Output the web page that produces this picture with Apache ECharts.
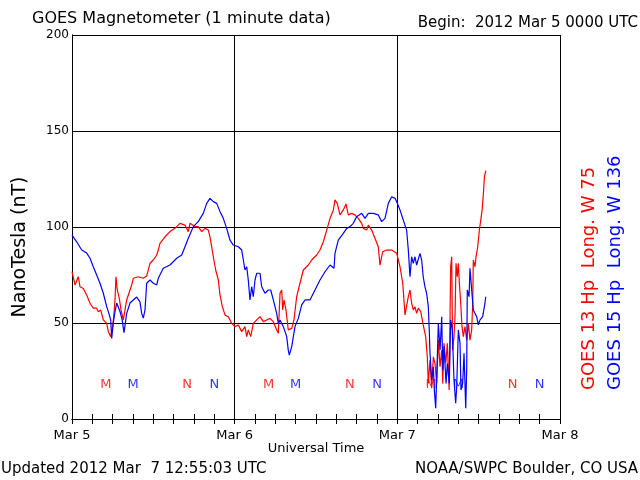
<!DOCTYPE html>
<html>
<head>
<meta charset="utf-8">
<script src="https://cdn.jsdelivr.net/npm/echarts@6/dist/echarts.min.js"></script>
<style>
html,body{margin:0;padding:0;background:#fff;}
#chart{width:640px;height:480px;}
</style>
</head>
<body>
<div id="chart"></div>
<script>
// Tick labels
var dayLabels = ['Mar 5', 'Mar 6', 'Mar 7', 'Mar 8'];
var yTicks = [0, 50, 100, 150, 200];

// GOES 13 Hp (red), hours since 2012 Mar 5 00:00 UTC, nT
var g13Hours = [0,0.44,0.93,1.18,1.67,2.17,2.66,3.14,3.64,3.88,4.23,4.62,5.12,5.36,5.71,6.00,6.20,6.34,6.49,6.68,6.98,7.23,7.57,8.07,8.56,8.81,9.04,9.78,10.52,11.02,11.51,12.00,12.50,12.73,12.98,13.72,14.46,15.20,15.93,16.67,17.16,17.41,18.15,18.63,19.14,19.62,20.11,20.36,20.61,20.85,21.20,21.59,21.84,22.18,22.57,23.06,23.56,24.05,24.54,25.04,25.52,25.78,26.01,26.37,26.75,27.25,27.74,28.23,28.73,29.21,29.70,30.20,30.44,30.69,30.94,31.09,31.28,31.57,31.91,32.42,32.75,33.15,33.64,34.13,34.87,35.36,36.10,36.59,37.08,37.58,38.07,38.56,38.80,39.14,39.54,40.03,40.43,40.77,41.27,41.75,42.24,42.74,42.98,43.48,43.72,44.22,44.70,45.19,45.44,45.84,46.43,47.17,47.41,47.91,48.39,48.80,49.13,49.38,49.62,49.87,50.11,50.35,50.60,50.85,51.09,51.45,51.82,52.18,52.42,52.57,52.82,53.07,53.31,53.56,53.81,54.05,54.30,54.55,54.70,54.89,55.15,55.38,55.64,55.87,56.02,56.16,56.36,56.51,56.66,56.85,57.00,57.15,57.35,57.54,57.74,57.98,58.24,58.48,58.72,58.97,59.12,59.21,59.46,59.61,59.86,60.10,60.31,60.51,60.70,60.85,61.06];
var g13Values = [76.7,69.8,74.1,68.9,68.0,64.6,60.3,57.7,57.7,55.9,56.8,51.6,49.8,45.5,42.9,48.1,55.0,62.0,74.1,67.2,62.8,56.8,51.6,62.0,67.2,69.8,73.3,74.1,73.3,74.5,81.1,82.8,85.4,88.0,91.5,94.9,97.6,99.3,101.9,101.0,97.6,101.9,100.2,100.2,97.6,99.3,98.4,94.9,89.7,84.5,77.6,72.4,64.6,58.5,54.2,53.3,49.8,48.1,49.0,45.5,48.1,42.9,46.4,42.9,49.8,51.6,53.3,50.7,51.6,52.4,50.7,46.4,44.6,65.5,67.2,56.8,62.0,56.8,46.4,47.2,51.6,63.7,70.7,77.6,80.2,82.8,85.4,88.0,92.3,98.4,104.5,108.9,114.1,112.3,106.3,108.9,112.0,106.3,107.1,106.3,104.5,101.9,99.3,98.4,101.0,98.4,94.1,89.7,80.2,87.1,88.0,88.0,88.9,86.3,79.3,70.7,54.2,55.0,63.7,67.2,60.3,56.8,58.5,55.0,57.7,55.9,49.0,42.9,32.4,18.5,30.7,16.0,32.4,29.0,18.5,41.1,27.2,35.9,18.5,39.4,29.0,39.4,15.1,79.3,84.5,35.9,42.9,53.3,81.1,74.1,81.1,70.7,60.3,48.1,42.9,48.1,41.1,49.8,41.1,46.4,60.3,82.8,79.3,84.5,89.7,98.4,103.6,108.9,117.6,126.2,129.3];

// GOES 15 Hp (blue)
var g15Hours = [0,0.69,1.43,2.17,2.66,3.14,3.64,4.13,4.62,5.12,5.36,5.71,5.86,6.09,6.34,6.60,6.86,7.08,7.38,7.67,8.07,8.56,9.04,9.55,10.03,10.28,10.52,10.77,11.02,11.51,12.00,12.50,12.73,13.47,14.46,15.45,16.19,16.67,17.16,17.90,18.63,19.37,19.87,20.36,20.85,21.35,21.84,22.32,22.82,23.31,23.80,24.54,25.04,25.28,25.52,25.78,26.01,26.26,26.51,26.75,27.00,27.25,27.74,27.99,28.48,28.96,29.32,29.70,30.20,30.44,30.69,31.18,31.68,31.91,32.06,32.42,32.90,33.39,33.89,34.38,35.11,35.85,36.59,37.33,38.07,38.66,38.80,39.29,40.03,40.53,41.02,41.50,42.00,42.74,43.23,43.72,44.45,45.19,45.69,46.18,46.67,47.17,47.66,47.91,48.39,48.88,49.37,49.62,49.87,50.11,50.35,50.60,50.85,51.34,51.59,51.82,52.07,52.32,52.57,52.71,52.82,53.07,53.31,53.46,53.66,53.81,54.05,54.30,54.55,54.70,54.89,55.19,55.38,55.67,55.87,56.11,56.36,56.61,56.76,57.00,57.25,57.39,57.64,57.84,58.09,58.24,58.32,58.58,58.72,58.97,59.21,59.46,59.71,59.95,60.20,60.59,60.93,61.04];
var g15Values = [95.8,92.3,88.0,86.4,83.7,79.3,75.0,70.7,65.5,58.5,55.9,51.6,42.0,50.0,55.9,60.4,60.0,56.0,52.0,45.0,55.0,60.4,62.0,63.5,61.0,55.0,52.6,56.8,70.7,72.4,70.7,69.8,73.3,78.5,80.2,83.7,85.4,89.7,94.1,100.2,102.8,107.1,112.3,114.9,113.2,112.3,108.0,104.5,99.3,93.2,90.6,89.7,88.0,82.8,77.6,79.3,72.4,62.0,68.9,63.7,72.4,75.9,75.9,68.9,65.5,67.2,67.2,62.0,55.0,49.8,51.6,48.1,42.9,35.9,33.3,37.7,48.1,52.4,59.4,62.0,62.0,67.2,72.4,76.7,80.2,78.5,86.3,93.2,96.7,99.3,100.2,101.9,105.4,107.1,104.5,107.1,107.1,106.3,102.8,104.5,112.3,115.8,114.9,113.2,108.9,103.6,98.4,88.0,74.1,84.5,81.1,84.5,80.2,86.3,82.8,74.1,68.9,65.5,58.5,46.4,34.2,20.3,27.2,15.1,5.6,22.0,49.8,35.9,53.3,25.5,37.7,18.5,29.0,18.5,51.6,46.4,20.3,8.2,16.8,46.4,39.4,15.1,18.5,34.2,5.6,27.2,67.2,63.7,78.5,67.2,56.8,55.0,53.3,49.0,51.6,53.3,60.3,63.7];

// Local midnight (M) / noon (N) markers
var markerHours   = [5, 9, 17, 21, 29, 33, 41, 45, 53, 57, 65, 69];
var markerLetters = ['M','M','N','N','M','M','N','N','M','M','N','N'];
var markerSat     = [13, 15, 13, 15, 13, 15, 13, 15, 13, 15, 13, 15];
var markerLevel = 17.7;

var RED = '#ff0000', BLUE = '#0000ff';
var FONT = 'DejaVu Sans';

function zip(a, b) { return a.map(function (v, i) { return [v, b[i]]; }); }

var markerData = markerHours.map(function (h, i) {
  return {
    value: [h, markerLevel],
    label: { formatter: markerLetters[i], color: markerSat[i] === 13 ? RED : BLUE }
  };
});

var chart = echarts.init(document.getElementById('chart'), null, { renderer: 'canvas' });
var axisBlack = { color: '#000', width: 1 };
chart.setOption({
  animation: false,
  backgroundColor: '#fff',
  grid: { left: 72, right: 80, top: 35, bottom: 61, containLabel: false },
  xAxis: [{
    type: 'value', min: 0, max: 72, interval: 24, position: 'bottom',
    axisLine: { show: true, lineStyle: axisBlack },
    axisTick: { show: true, inside: true, length: 5, lineStyle: axisBlack },
    minorTick: { show: true, splitNumber: 8, length: 5, lineStyle: axisBlack },
    splitLine: { show: true, lineStyle: axisBlack },
    axisLabel: {
      show: true, margin: 10, color: '#000', fontFamily: FONT, fontSize: 13,
      formatter: function (v) { return dayLabels[Math.round(v / 24)]; }
    }
  }, {
    type: 'value', min: 0, max: 72, interval: 24, position: 'top',
    axisLine: { show: true, lineStyle: axisBlack },
    axisTick: { show: true, inside: true, length: 5, lineStyle: axisBlack },
    minorTick: { show: true, splitNumber: 8, length: 5, lineStyle: axisBlack },
    splitLine: { show: false },
    axisLabel: { show: false }
  }],
  yAxis: [{
    type: 'value', min: yTicks[0], max: yTicks[yTicks.length - 1], interval: 50,
    axisLine: { show: true, lineStyle: axisBlack },
    axisTick: { show: false },
    splitLine: { show: true, lineStyle: axisBlack },
    axisLabel: { show: true, margin: 3, color: '#000', fontFamily: FONT, fontSize: 12 }
  }, {
    type: 'value', min: 0, max: 200, interval: 50, position: 'right',
    axisLine: { show: true, lineStyle: axisBlack },
    axisTick: { show: false }, splitLine: { show: false }, axisLabel: { show: false }
  }],
  series: [{
    type: 'scatter', symbolSize: 0, z: 1, silent: true,
    data: markerData,
    label: { show: true, position: 'inside', fontFamily: FONT, fontSize: 13 }
  }, {
    name: 'GOES 13', type: 'line', showSymbol: false, z: 2, silent: true,
    data: zip(g13Hours, g13Values),
    lineStyle: { color: RED, width: 1.2 }
  }, {
    name: 'GOES 15', type: 'line', showSymbol: false, z: 3, silent: true,
    data: zip(g15Hours, g15Values),
    lineStyle: { color: BLUE, width: 1.2 }
  }],
  graphic: [
    { type: 'text', x: 32, y: 19, style: { text: 'GOES Magnetometer (1 minute data)', font: '16px "DejaVu Sans"', fill: '#000', textAlign: 'left', textVerticalAlign: 'middle' } },
    { type: 'text', x: 638, y: 23, style: { text: 'Begin:  2012 Mar 5 0000 UTC', font: '15px "DejaVu Sans"', fill: '#000', textAlign: 'right', textVerticalAlign: 'middle' } },
    { type: 'text', x: 316, y: 449, style: { text: 'Universal Time', font: '13px "DejaVu Sans"', fill: '#000', textAlign: 'center', textVerticalAlign: 'middle' } },
    { type: 'text', x: 1, y: 469, style: { text: 'Updated 2012 Mar  7 12:55:03 UTC', font: '15px "DejaVu Sans"', fill: '#000', textAlign: 'left', textVerticalAlign: 'middle' } },
    { type: 'text', x: 638, y: 469, style: { text: 'NOAA/SWPC Boulder, CO USA', font: '15px "DejaVu Sans"', fill: '#000', textAlign: 'right', textVerticalAlign: 'middle' } },
    { type: 'text', x: 20, y: 247, rotation: Math.PI / 2, style: { text: 'NanoTesla (nT)', font: '19px "DejaVu Sans"', fill: '#000', textAlign: 'center', textVerticalAlign: 'middle' } },
    { type: 'text', x: 589, y: 390, rotation: Math.PI / 2, style: { text: 'GOES 13 Hp  Long. W 75', font: '18px "DejaVu Sans"', fill: RED, textAlign: 'left', textVerticalAlign: 'middle' } },
    { type: 'text', x: 615, y: 390, rotation: Math.PI / 2, style: { text: 'GOES 15 Hp  Long. W 136', font: '18px "DejaVu Sans"', fill: BLUE, textAlign: 'left', textVerticalAlign: 'middle' } }
  ]
});
</script>
</body>
</html>
